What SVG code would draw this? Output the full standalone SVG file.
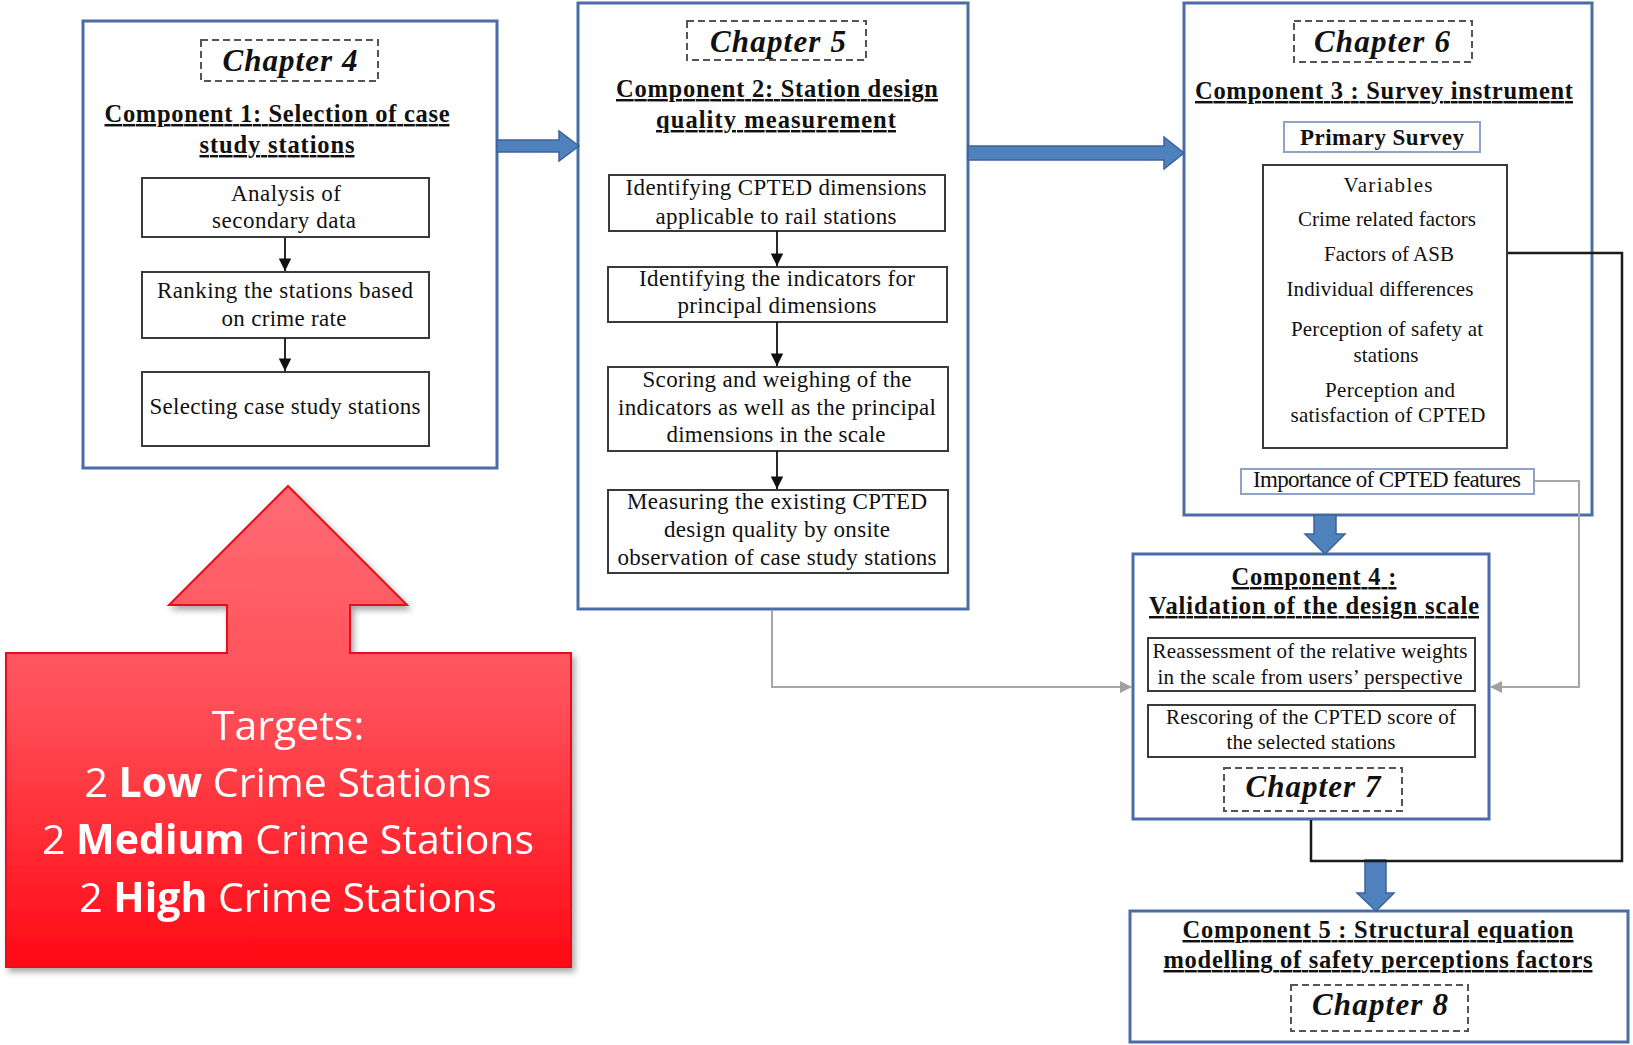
<svg xmlns="http://www.w3.org/2000/svg" width="1633" height="1045" viewBox="0 0 1633 1045">
<defs>
<style>
.frame{fill:#fff;stroke:#4a6da7;stroke-width:3}
.sub{fill:#fff;stroke:#3a3a3a;stroke-width:2}
.soft{fill:#fff;stroke:#8fa3c8;stroke-width:2}
.chap{fill:none;stroke:#555;stroke-width:2;stroke-dasharray:7 4}
.chapt{font-family:"Liberation Serif",serif;font-style:italic;font-weight:bold;font-size:31px;fill:#111;text-anchor:middle}
.title{font-family:"Liberation Serif",serif;font-weight:bold;font-size:24.5px;fill:#111;text-anchor:middle;text-decoration:underline}
.body{font-family:"Liberation Serif",serif;font-size:23px;fill:#111;text-anchor:middle}
.var{font-size:21px}
.flow{fill:none;stroke:#111;stroke-width:1.8}
.link{fill:none;stroke:#a6a6a6;stroke-width:2}
.fb{fill:none;stroke:#1a1a1a;stroke-width:2.5}
.big{fill:#4f81bd;stroke:#3b639a;stroke-width:1.5}
.tgt{font-family:"Open Sans",sans-serif;font-size:41px;fill:#fff;text-anchor:middle}
</style>
<marker id="tri" viewBox="0 0 10 10" refX="10" refY="5" markerWidth="7" markerHeight="7" orient="auto" markerUnits="strokeWidth">
<path d="M0,0 L10,5 L0,10 z" fill="#111"/>
</marker>
<marker id="triGray" viewBox="0 0 10 10" refX="10" refY="5" markerWidth="6" markerHeight="6" orient="auto" markerUnits="strokeWidth">
<path d="M0,0 L10,5 L0,10 z" fill="#a0a0a0"/>
</marker>
<linearGradient id="redFill" x1="0" y1="0" x2="0" y2="1">
<stop offset="0" stop-color="#ff6b74"/>
<stop offset="0.45" stop-color="#ff4f58"/>
<stop offset="1" stop-color="#ff0a14"/>
</linearGradient>
<filter id="shadow" x="-5%" y="-5%" width="112%" height="112%">
<feDropShadow dx="3" dy="4" stdDeviation="3" flood-color="#000" flood-opacity="0.35"/>
</filter>
</defs>
<rect width="1633" height="1045" fill="#fff"/>

<!-- red target callout -->
<g id="targets" filter="url(#shadow)">
  <polygon points="288,486 407,605 350,605 350,653 571,653 571,967 6,967 6,653 227,653 227,605 169,605" fill="url(#redFill)" stroke="#e8101c" stroke-width="2"/>
  <text class="tgt" x="288" y="740">Targets:</text>
  <text class="tgt" x="288" y="797">2 <tspan font-weight="bold">Low</tspan> Crime Stations</text>
  <text class="tgt" x="288" y="854">2 <tspan font-weight="bold">Medium</tspan> Crime Stations</text>
  <text class="tgt" x="288" y="912">2 <tspan font-weight="bold">High</tspan> Crime Stations</text>
</g>

<!-- component 1 -->
<g id="component1">
  <rect class="frame" x="83" y="21" width="414" height="447"/>
  <rect class="chap" x="201" y="40" width="177" height="41"/>
  <text class="chapt" x="290" y="71" textLength="135">Chapter 4</text>
  <text class="title" x="277" y="122" textLength="345">Component 1: Selection of case</text>
  <text class="title" x="277" y="153" textLength="155">study stations</text>
  <rect class="sub" x="142" y="178" width="287" height="59"/>
  <text class="body" x="286" y="201" textLength="110">Analysis of</text>
  <text class="body" x="284" y="228" textLength="144">secondary data</text>
  <rect class="sub" x="142" y="272" width="287" height="66"/>
  <text class="body" x="285" y="298" textLength="256">Ranking the stations based</text>
  <text class="body" x="284" y="326" textLength="125">on crime rate</text>
  <rect class="sub" x="142" y="372" width="287" height="74"/>
  <text class="body" x="285" y="414" textLength="271">Selecting case study stations</text>
</g>

<!-- component 2 -->
<g id="component2">
  <rect class="frame" x="578" y="3" width="390" height="606"/>
  <rect class="chap" x="687" y="21" width="179" height="39"/>
  <text class="chapt" x="778" y="52" textLength="136">Chapter 5</text>
  <text class="title" x="777" y="97" textLength="322">Component 2: Station design</text>
  <text class="title" x="776" y="128" textLength="240">quality measurement</text>
  <rect class="sub" x="609" y="175" width="336" height="56"/>
  <text class="body" x="776" y="195" textLength="301">Identifying CPTED dimensions</text>
  <text class="body" x="776" y="224" textLength="241">applicable to rail stations</text>
  <rect class="sub" x="608" y="267" width="339" height="55"/>
  <text class="body" x="777" y="286" textLength="276">Identifying the indicators for</text>
  <text class="body" x="777" y="313" textLength="199">principal dimensions</text>
  <rect class="sub" x="608" y="367" width="340" height="84"/>
  <text class="body" x="777" y="387" textLength="269">Scoring and weighing of the</text>
  <text class="body" x="777" y="415" textLength="318">indicators as well as the principal</text>
  <text class="body" x="776" y="442" textLength="219">dimensions in the scale</text>
  <rect class="sub" x="608" y="490" width="340" height="83"/>
  <text class="body" x="777" y="509" textLength="300">Measuring the existing CPTED</text>
  <text class="body" x="777" y="537" textLength="226">design quality by onsite</text>
  <text class="body" x="777" y="565" textLength="319">observation of case study stations</text>
</g>

<!-- component 3 -->
<g id="component3">
  <rect class="frame" x="1184" y="3" width="408" height="512"/>
  <rect class="chap" x="1294" y="21" width="178" height="41"/>
  <text class="chapt" x="1382" y="52" textLength="136">Chapter 6</text>
  <text class="title" x="1384" y="99" textLength="378">Component 3 : Survey instrument</text>
  <rect class="soft" x="1284" y="122" width="196" height="30"/>
  <text class="body" x="1382" y="145" font-weight="bold" textLength="164">Primary Survey</text>
  <rect class="sub" x="1263" y="165" width="244" height="283"/>
  <text class="body var" x="1388" y="192" textLength="89">Variables</text>
  <text class="body var" x="1387" y="226" textLength="178">Crime related factors</text>
  <text class="body var" x="1389" y="261" textLength="130">Factors of ASB</text>
  <text class="body var" x="1380" y="296" textLength="187">Individual differences</text>
  <text class="body var" x="1387" y="336" textLength="192">Perception of safety at</text>
  <text class="body var" x="1386" y="362" textLength="65">stations</text>
  <text class="body var" x="1390" y="397" textLength="130">Perception and</text>
  <text class="body var" x="1388" y="422" textLength="195">satisfaction of CPTED</text>
  <rect class="soft" x="1241" y="469" width="293" height="25"/>
  <text class="body" x="1387" y="487" font-size="20.5" textLength="268">Importance of CPTED features</text>
</g>

<!-- component 4 -->
<g id="component4">
  <rect class="frame" x="1133" y="554" width="356" height="265"/>
  <text class="title" x="1314" y="585" textLength="165">Component 4 :</text>
  <text class="title" x="1314" y="614" textLength="330">Validation of  the design scale</text>
  <rect class="sub" x="1148" y="638" width="327" height="53"/>
  <text class="body var" x="1310" y="658" textLength="315">Reassessment of the relative weights</text>
  <text class="body var" x="1310" y="684" textLength="305">in the scale from users’ perspective</text>
  <rect class="sub" x="1148" y="705" width="327" height="52"/>
  <text class="body var" x="1311" y="724" textLength="290">Rescoring of the CPTED score of</text>
  <text class="body var" x="1311" y="749" textLength="169">the selected stations</text>
  <rect class="chap" x="1224" y="768" width="178" height="43"/>
  <text class="chapt" x="1313" y="797" textLength="135">Chapter 7</text>
</g>

<!-- component 5 -->
<g id="component5">
  <rect class="frame" x="1130" y="911" width="498" height="131"/>
  <text class="title" x="1378" y="938" textLength="391">Component 5 : Structural equation</text>
  <text class="title" x="1378" y="968" textLength="429">modelling of safety perceptions factors</text>
  <rect class="chap" x="1291" y="985" width="177" height="46"/>
  <text class="chapt" x="1380" y="1015" textLength="136">Chapter 8</text>
</g>

<!-- connectors, drawn over the boxes -->
<g id="connectors">
  <!-- thick block arrows between stages -->
  <polygon class="big" points="497,140 559,140 559,131 579,146 559,161 559,152 497,152"/>
  <polygon class="big" points="968,146 1164,146 1164,137 1184,153 1164,169 1164,160 968,160"/>
  <polygon class="big" points="1314,515 1336,515 1336,534 1345,534 1325,554 1305,534 1314,534"/>
  <polygon class="big" points="1365,860 1386,860 1386,893 1394,893 1376,911 1357,893 1365,893"/>
  <!-- inner flow arrows, component 1 -->
  <line class="flow" x1="285" y1="238" x2="285" y2="271" marker-end="url(#tri)"/>
  <line class="flow" x1="285" y1="338" x2="285" y2="371" marker-end="url(#tri)"/>
  <!-- inner flow arrows, component 2 -->
  <line class="flow" x1="777" y1="231" x2="777" y2="266" marker-end="url(#tri)"/>
  <line class="flow" x1="777" y1="322" x2="777" y2="366" marker-end="url(#tri)"/>
  <line class="flow" x1="777" y1="451" x2="777" y2="489" marker-end="url(#tri)"/>
  <!-- grey links into validation -->
  <polyline class="link" points="772,610 772,687 1132,687" marker-end="url(#triGray)"/>
  <polyline class="link" points="1535,481 1579,481 1579,687 1490,687" marker-end="url(#triGray)"/>
  <!-- variables and validation feed the SEM component -->
  <polyline class="fb" points="1508,253 1622,253 1622,861 1311,861 1311,820"/>
</g>
</svg>
